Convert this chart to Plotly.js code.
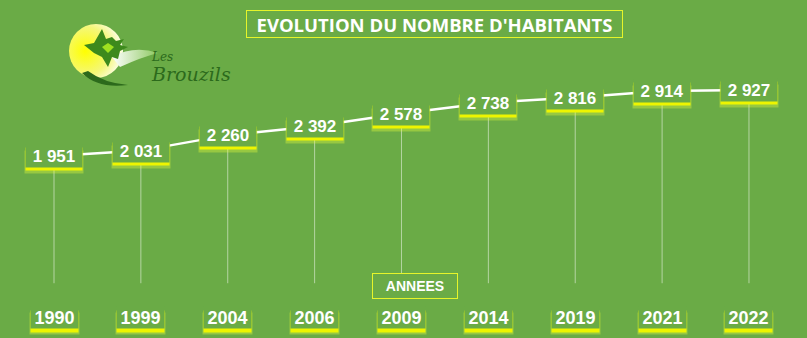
<!DOCTYPE html>
<html><head><meta charset="utf-8">
<script src="https://cdn.plot.ly/plotly-3.0.1.min.js"></script>
<style>html,body{margin:0;padding:0;background:#6aab46;}#chart{width:807px;height:338px;}</style>
</head><body><div id="chart"></div>
<script>
const years = ['1990','1999','2004','2006','2009','2014','2019','2021','2022'];
const population = [1951, 2031, 2260, 2392, 2578, 2738, 2816, 2914, 2927];
const valueLabels = ['1 951','2 031','2 260','2 392','2 578','2 738','2 816','2 914','2 927'];
const titleText = "EVOLUTION DU NOMBRE D'HABITANTS";
const axisTitle = 'ANNEES';

const BG = '#6aab46';
const DROP_BASE = 70;

// drop lines
const dx = [], dy = [];
years.forEach((y, i) => { dx.push(y, y, null); dy.push(population[i], DROP_BASE, null); });

const traces = [
  {x: dx, y: dy, mode: 'lines', line: {color: 'rgba(255,255,255,0.5)', width: 1}, hoverinfo: 'skip', showlegend: false},
  {x: years, y: population, mode: 'lines', line: {color: '#ffffff', width: 2.5}, showlegend: false}
];

const ann = [];
const YEAR_Y = 1 - 317 / 338;
years.forEach((y, i) => {
  ann.push({x: i, y: population[i], xref: 'x', yref: 'y', text: ' ', showarrow: false, yshift: -6,
    width: 56, height: 20, bgcolor: 'rgba(235,255,60,0.35)', borderpad: 1});
  ann.push({x: i, y: population[i], xref: 'x', yref: 'y', text: ' ', showarrow: false, yshift: -3,
    width: 54, height: 20, bgcolor: '#eef500', borderpad: 1});
  ann.push({x: i, y: population[i], xref: 'x', yref: 'y', text: '<b>' + valueLabels[i] + '</b>', showarrow: false,
    width: 54, height: 20, bgcolor: BG, borderpad: 1,
    font: {family: 'Liberation Sans, Arial, sans-serif', size: 17, color: '#ffffff'}});
  // year labels
  ann.push({x: i, y: YEAR_Y, xref: 'x', yref: 'paper', yanchor: 'middle', text: ' ', showarrow: false, yshift: -6,
    width: 47, height: 19, bgcolor: 'rgba(235,255,60,0.35)', borderpad: 1});
  ann.push({x: i, y: YEAR_Y, xref: 'x', yref: 'paper', yanchor: 'middle', text: ' ', showarrow: false, yshift: -4,
    width: 45, height: 19, bgcolor: '#eef500', borderpad: 1});
  ann.push({x: i, y: YEAR_Y, xref: 'x', yref: 'paper', yanchor: 'middle', text: '<b>' + y + '</b>', showarrow: false,
    width: 45, height: 19, bgcolor: BG, borderpad: 1,
    font: {family: 'Liberation Sans, Arial, sans-serif', size: 18, color: '#ffffff'}});
});
ann.push({x: 415 / 807, y: 1 - 286 / 338, xref: 'paper', yref: 'paper', yanchor: 'middle', text: '<b>' + axisTitle + '</b>', showarrow: false,
  width: 80, height: 20, bordercolor: '#e6f52a', borderwidth: 1, borderpad: 2, bgcolor: BG,
  font: {family: 'Liberation Sans, Arial, sans-serif', size: 14, color: '#ffffff'}});
ann.push({x: 434 / 807, y: 1 - 24 / 338, xref: 'paper', yref: 'paper', yanchor: 'middle', text: '<b>' + titleText + '</b>', showarrow: false,
  width: 371, height: 22, bordercolor: '#e6f52a', borderwidth: 1, borderpad: 2,
  font: {family: 'Open Sans, sans-serif', size: 18.5, color: '#ffffff'}});
// logo text
ann.push({x: 149 / 807, y: 1 - 57 / 338, xref: 'paper', yref: 'paper', yanchor: 'middle', text: '<i>Les</i>', showarrow: false,
  font: {family: 'DejaVu Serif, serif', size: 12, color: '#2c6a1c'}});
ann.push({x: 149 / 807, y: 1 - 74 / 338, xref: 'paper', yref: 'paper', yanchor: 'middle', text: '<i>Brouzils</i>', showarrow: false,
  font: {family: 'DejaVu Serif, serif', size: 19, color: '#2c6a1c'}});

const logoSvg = `<svg xmlns="http://www.w3.org/2000/svg" width="130" height="70" viewBox="0 0 130 70">
<defs><radialGradient id="g" cx="0.3" cy="0.5" r="0.75"><stop offset="0" stop-color="#ffff00"/><stop offset="0.6" stop-color="#f4f77a"/><stop offset="1" stop-color="#ffffff"/></radialGradient>
<linearGradient id="s" x1="0" y1="0" x2="1" y2="0"><stop offset="0" stop-color="#ffffff"/><stop offset="1" stop-color="#8cc860"/></linearGradient></defs>
<circle cx="28" cy="28" r="27" fill="url(#g)"/>
<path d="M14 50 Q30 66 60 62 Q36 60 20 48 Z" fill="#2c6a1c"/>
<path d="M44 34 Q66 22 90 30 Q74 34 52 44 Z" fill="url(#s)"/>
<path d="M16 22 L26 20 L34 6 L38 16 L44 14 L48 18 L56 16 L52 22 L60 24 L52 28 L50 36 L44 34 L40 44 L34 34 L26 30 Z" fill="#3d8a1c"/>
<path d="M34 24 L40 20 L46 24 L40 30 Z" fill="#9fe020"/>
</svg>`;

const layout = {
  width: 807, height: 338,
  margin: {l: 0, r: 0, t: 0, b: 0},
  paper_bgcolor: BG, plot_bgcolor: BG,
  xaxis: {type: 'category', range: [-0.6216, 8.668], visible: false, fixedrange: true},
  yaxis: {range: [-740, 4258], visible: false, fixedrange: true},
  annotations: ann,
  images: [{source: 'data:image/svg+xml;charset=utf-8,' + encodeURIComponent(logoSvg), xref: 'paper', yref: 'paper',
    x: 68 / 807, y: 1 - 23 / 338, sizex: 130 / 807, sizey: 70 / 338, xanchor: 'left', yanchor: 'top', sizing: 'stretch', layer: 'below'}],
  showlegend: false
};
Plotly.newPlot('chart', traces, layout, {displayModeBar: false, staticPlot: true});
</script></body></html>
